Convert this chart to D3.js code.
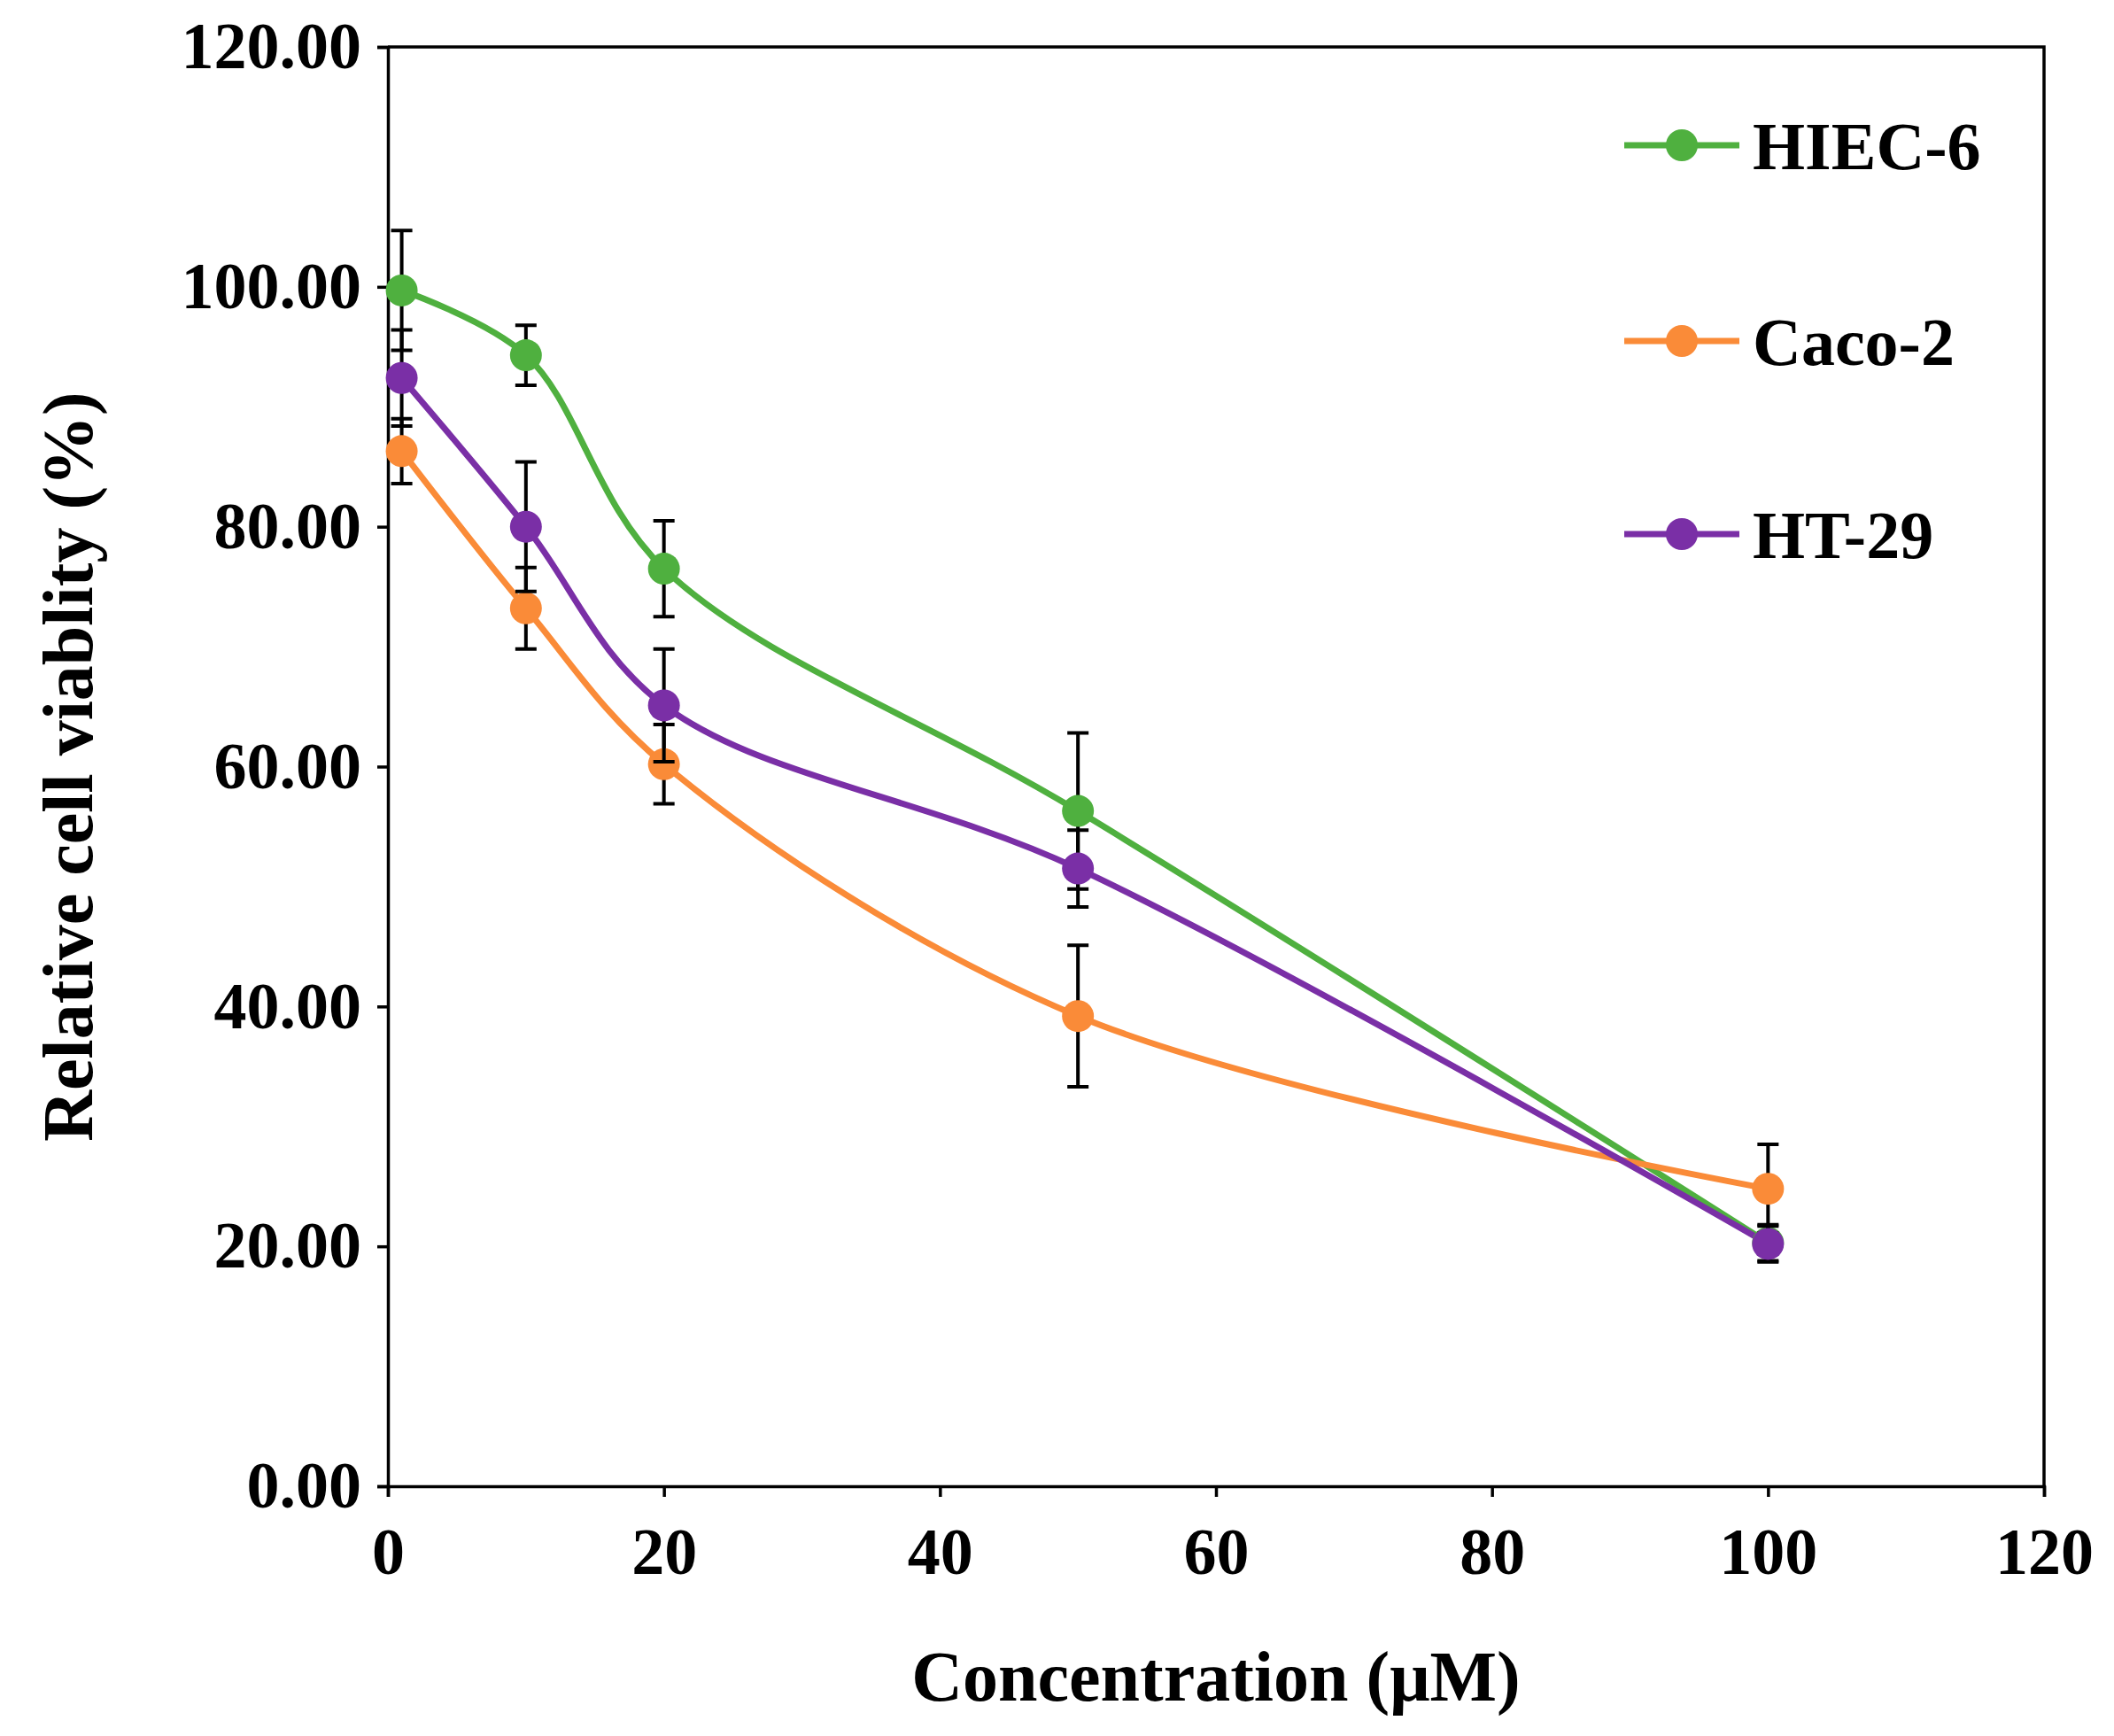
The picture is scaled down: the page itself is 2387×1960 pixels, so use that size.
<!DOCTYPE html>
<html>
<script src="https://cdn.jsdelivr.net/npm/d3@7"></script>
<body style="margin:0;background:#fff">
<script>
var width = 2387, height = 1960;
var conc = [1, 10, 20, 50, 100];
var seriesNames = ['HIEC-6', 'Caco-2', 'HT-29'];
var colors = ['#4fb03f', '#fa8b38', '#7a2fa6'];
var hiec = [99.7, 94.3, 76.5, 56.3, 20.3];
var hiecErr = [5.0, 2.5, 4.0, 6.5, 1.5];
var caco = [86.3, 73.2, 60.2, 39.2, 24.8];
var cacoErr = [2.7, 3.4, 3.3, 5.9, 3.7];
var ht = [92.4, 80.0, 65.1, 51.5, 20.2];
var htErr = [4.0, 5.4, 4.7, 3.2, 1.5];
var xTicks = [0, 20, 40, 60, 80, 100, 120];
var yTicks = [0, 20, 40, 60, 80, 100, 120];

var series = [hiec, caco, ht];
var errs = [hiecErr, cacoErr, htErr];

var svg = d3.select('body').append('svg').attr('width', width).attr('height', height);
var x = d3.scaleLinear().domain([0, 120]).range([438, 2308]);
var y = d3.scaleLinear().domain([0, 120]).range([1678, 53]);
var font = '"Liberation Serif", "Times New Roman", serif';

var xa = svg.append('g').attr('transform', 'translate(0,' + y(0) + ')')
  .call(d3.axisBottom(x).tickValues(xTicks).tickSize(12).tickPadding(34));
var ya = svg.append('g').attr('transform', 'translate(' + x(0) + ',0)')
  .call(d3.axisLeft(y).tickValues(yTicks).tickSize(12).tickPadding(18).tickFormat(d3.format('.2f')));
[xa, ya].forEach(function(a) {
  a.selectAll('path,line').attr('stroke', '#000').attr('stroke-width', 3.5);
  a.selectAll('text').style('font-family', font).style('font-weight', 'bold').style('font-size', '74px').attr('fill', '#000');
});
svg.append('path').attr('d', 'M' + x(0) + ',' + y(120) + 'H' + x(120) + 'V' + y(0))
  .attr('fill', 'none').attr('stroke', '#000').attr('stroke-width', 3.5);

var line = d3.line().x(function(d, i) { return x(conc[i]); }).y(function(d) { return y(d); })
  .curve(d3.curveCatmullRom.alpha(0.5));

series.forEach(function(s, k) {
  svg.append('path').datum(s).attr('d', line).attr('fill', 'none')
    .attr('stroke', colors[k]).attr('stroke-width', 7);
});
series.forEach(function(s, k) {
  var g = svg.append('g');
  s.forEach(function(v, i) {
    var cx = x(conc[i]), e = errs[k][i];
    g.append('path').attr('d', 'M' + cx + ',' + y(v - e) + 'V' + y(v + e) +
      'M' + (cx - 12) + ',' + y(v - e) + 'h24M' + (cx - 12) + ',' + y(v + e) + 'h24')
      .attr('stroke', '#000').attr('stroke-width', 4).attr('fill', 'none');
  });
  g.selectAll('circle').data(s).enter().append('circle')
    .attr('cx', function(d, i) { return x(conc[i]); }).attr('cy', function(d) { return y(d); })
    .attr('r', 18).attr('fill', colors[k]);
});

var ly = [164, 385, 603];
seriesNames.forEach(function(n, k) {
  svg.append('line').attr('x1', 1834).attr('x2', 1964).attr('y1', ly[k]).attr('y2', ly[k])
    .attr('stroke', colors[k]).attr('stroke-width', 7);
  svg.append('circle').attr('cx', 1899).attr('cy', ly[k]).attr('r', 18).attr('fill', colors[k]);
  svg.append('text').attr('x', 1979).attr('y', ly[k]).attr('dy', '0.35em').text(n)
    .style('font-family', font).style('font-weight', 'bold').style('font-size', '76px');
});

svg.append('text').attr('x', x(60)).attr('y', 1920).attr('text-anchor', 'middle')
  .text('Concentration (μM)').style('font-family', font).style('font-weight', 'bold').style('font-size', '80px');
svg.append('text').attr('transform', 'translate(104,' + y(60) + ') rotate(-90)').attr('text-anchor', 'middle')
  .text('Relative cell viablity (%)').style('font-family', font).style('font-weight', 'bold').style('font-size', '80px');
</script>
</body>
</html>
